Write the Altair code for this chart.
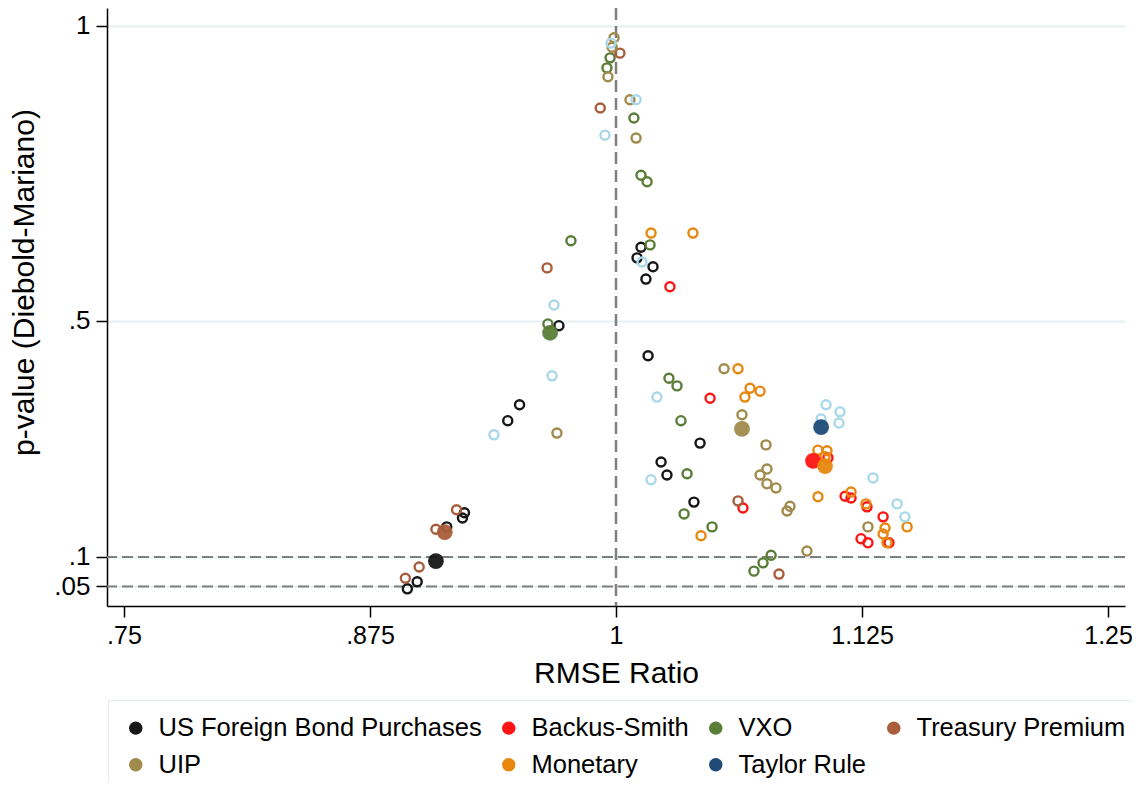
import altair as alt
import pandas as pd

SERIES = ["US Foreign Bond Purchases", "Backus-Smith", "VXO", "Treasury Premium",
          "UIP", "Monetary", "Taylor Rule"]
FILLED_COLORS = ["#161616", "#ff1414", "#5a7d38", "#a95d3a", "#a08b4c", "#e8870f", "#1f4b78"]
HOLLOW_COLORS = ["#161616", "#ff1414", "#5a7d38", "#a95d3a", "#a08b4c", "#e8870f", "#a9d8ea"]

# hollow points (individual specifications)
bond_ratio = [0.894, 0.899, 0.914, 0.922, 0.923, 0.945, 0.951, 0.971, 1.0127, 1.0107,
              1.0188, 1.0152, 1.0163, 1.0427, 1.0229, 1.0259, 1.0396]
bond_p = [0.046, 0.058, 0.151, 0.166, 0.175, 0.331, 0.358, 0.492, 0.625, 0.607,
          0.592, 0.571, 0.441, 0.293, 0.261, 0.239, 0.193]

backus_ratio = [1.0274, 1.0478, 1.0645, 1.1077, 1.1164, 1.1194, 1.1275, 1.1357, 1.1245, 1.128, 1.1387]
backus_p = [0.558, 0.369, 0.183, 0.268, 0.203, 0.200, 0.185, 0.168, 0.131, 0.124, 0.124]

vxo_ratio = [0.997, 0.9954, 1.0091, 1.0127, 1.0158, 0.9771, 1.0173, 0.9654, 1.0269, 1.031,
             1.033, 1.0361, 1.0346, 1.0488, 1.0788, 1.0747, 1.0701]
vxo_p = [0.946, 0.929, 0.844, 0.747, 0.736, 0.636, 0.629, 0.495, 0.403, 0.390,
         0.331, 0.241, 0.173, 0.151, 0.103, 0.090, 0.076]

treasury_ratio = [0.893, 0.900, 0.9085, 0.919, 0.965, 0.992, 1.002, 1.062, 1.0828]
treasury_p = [0.064, 0.083, 0.147, 0.180, 0.590, 0.861, 0.954, 0.195, 0.071]

uip_ratio = [0.999, 0.998, 0.9959, 1.0071, 1.0102, 0.970, 1.064, 1.0549, 1.0762, 1.0767,
             1.0732, 1.0767, 1.0813, 1.0884, 1.0869, 1.097, 1.128]
uip_p = [0.980, 0.964, 0.914, 0.875, 0.810, 0.310, 0.341, 0.419, 0.290, 0.249,
         0.239, 0.224, 0.217, 0.186, 0.178, 0.110, 0.151]

monetary_ratio = [1.0178, 1.0391, 1.062, 1.0681, 1.0732, 1.0655, 1.1026, 1.1072, 1.1062, 1.1026,
                  1.1194, 1.127, 1.1367, 1.1357, 1.1377, 1.1479, 1.0432]
monetary_p = [0.649, 0.649, 0.419, 0.386, 0.381, 0.371, 0.281, 0.280, 0.270, 0.202,
              0.210, 0.190, 0.149, 0.139, 0.124, 0.151, 0.136]

taylor_ratio = [0.9975, 1.0102, 0.9944, 0.9685, 1.0132, 0.9675, 1.0208, 0.938, 1.0178, 1.1067,
                1.1138, 1.1133, 1.1042, 1.1306, 1.1428, 1.1468]
taylor_p = [0.971, 0.875, 0.815, 0.527, 0.600, 0.407, 0.371, 0.307, 0.231, 0.358,
            0.346, 0.327, 0.334, 0.234, 0.190, 0.168]

# filled points (baseline specification, one per series, same order as SERIES)
filled_ratio = [0.9085, 1.1001, 0.9665, 0.913, 1.064, 1.1062, 1.1042]
filled_p = [0.093, 0.263, 0.480, 0.142, 0.317, 0.254, 0.320]

X_TICKS = [0.75, 0.875, 1.0, 1.125, 1.25]
Y_TICKS = [0.05, 0.1, 0.5, 1.0]
REF_P = [0.1, 0.05]
REF_RATIO = [1.0]

hollow_parts = [
    (SERIES[0], bond_ratio, bond_p),
    (SERIES[1], backus_ratio, backus_p),
    (SERIES[2], vxo_ratio, vxo_p),
    (SERIES[3], treasury_ratio, treasury_p),
    (SERIES[4], uip_ratio, uip_p),
    (SERIES[5], monetary_ratio, monetary_p),
    (SERIES[6], taylor_ratio, taylor_p),
]
rows = []
for name, rs, ps in hollow_parts:
    for r, p in zip(rs, ps):
        rows.append({"series": name, "ratio": r, "pvalue": p})
df_hollow = pd.DataFrame(rows)
df_filled = pd.DataFrame({"series": SERIES, "ratio": filled_ratio, "pvalue": filled_p})
df_hline = pd.DataFrame({"pvalue": REF_P})
df_vline = pd.DataFrame({"ratio": REF_RATIO})

FONT = "Liberation Sans"
x_scale = alt.Scale(domain=[0.7414, 1.2586], nice=False, zero=False)
y_scale = alt.Scale(domain=[0.0169, 1.0305], nice=False, zero=False)

lab_expr = "datum.value < 1 ? slice(format(datum.value, '.3~f'), 1) : format(datum.value, '.3~f')"

x_axis = alt.Axis(values=X_TICKS, labelExpr=lab_expr, title="RMSE Ratio", grid=False,
                  titleY=76, titleBaseline="alphabetic", tickSize=11, labelPadding=6,
                  labelFontSize=25)
y_axis = alt.Axis(values=Y_TICKS, labelExpr=lab_expr, title="p-value (Diebold-Mariano)",
                  grid=True, gridColor="#e6eff1", gridWidth=2,
                  titleX=-74, titleY=274, titleBaseline="alphabetic", titleAngle=-90,
                  tickSize=11, labelPadding=6)

X = alt.X("ratio:Q", scale=x_scale, axis=x_axis)
Y = alt.Y("pvalue:Q", scale=y_scale, axis=y_axis)

hrules = alt.Chart(df_hline).mark_rule(strokeDash=[11, 5], color="#7f7f7f", strokeWidth=2).encode(
    y=alt.Y("pvalue:Q", scale=y_scale, axis=y_axis))
vrule = alt.Chart(df_vline).mark_rule(strokeDash=[12, 6], color="#7f7f7f", strokeWidth=2.5).encode(
    x=alt.X("ratio:Q", scale=x_scale, axis=x_axis))

hollow = alt.Chart(df_hollow).mark_point(shape="circle", filled=False, size=82,
                                         strokeWidth=2.4, opacity=1).encode(
    x=X, y=Y,
    color=alt.Color("series:N", scale=alt.Scale(domain=SERIES, range=HOLLOW_COLORS), legend=None),
)

filled = alt.Chart(df_filled).mark_circle(size=250, opacity=0.95).encode(
    x=X, y=Y,
    color=alt.Color("series:N", scale=alt.Scale(domain=SERIES, range=FILLED_COLORS),
                    legend=alt.Legend(title=None, orient="none", legendX=1, legendY=692,
                                      columns=4, direction="horizontal",
                                      symbolType="circle", symbolSize=180,
                                      symbolStrokeWidth=0, symbolOpacity=1,
                                      labelFontSize=25.5, labelFont=FONT, labelColor="black",
                                      labelLimit=600, labelOffset=10,
                                      columnPadding=14, rowPadding=10, padding=15,
                                      strokeColor="#e3edf0", fillColor="white")),
)

chart = alt.layer(hrules, vrule, hollow, filled).resolve_scale(color="independent").properties(
    width=1018, height=598,
    autosize=alt.AutoSizeParams(type="none"),
    padding={"left": 99, "top": 0, "right": 7, "bottom": 176},
).configure_view(stroke=None).configure_axis(
    labelFont=FONT, titleFont=FONT, labelFontSize=26, titleFontSize=30,
    labelColor="black", titleColor="black", titleFontWeight="normal",
    domainColor="black", domainWidth=1.5, tickColor="black", tickWidth=1.5,
)

chart.save("out.html", embed_options={"renderer": "svg", "actions": False})
